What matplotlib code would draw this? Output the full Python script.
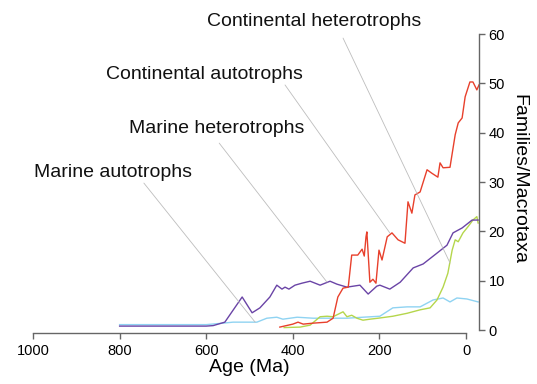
import matplotlib
matplotlib.use("Agg")
import matplotlib.pyplot as plt

plt.rcParams['font.family'] = ['Liberation Sans', 'DejaVu Sans']

# Marine heterotrophs (purple)
mh_age = [800, 600, 584, 557, 517, 494, 476, 453, 437, 425, 418, 409, 395, 379, 360, 337, 314, 298,
          275, 245, 226, 206, 199, 176, 152, 122, 99, 67, 44, 30, 9, -14, -28]
mh_val = [0.8, 0.8, 0.9, 1.6, 6.7, 3.5, 4.5, 6.7, 9.1, 8.3, 8.7, 8.3, 9.1, 9.5, 9.9, 9.1, 9.9, 9.3,
          8.7, 9.1, 7.3, 8.9, 9.1, 8.3, 9.7, 12.6, 13.4, 15.6, 17.2, 19.7, 20.7, 22.3, 22.3]

# Continental heterotrophs (red)
ch_age = [430, 400, 388, 376, 353, 321, 307, 296, 284, 272, 264, 250, 240, 235, 231, 229, 222, 215,
          208, 201, 194, 182, 171, 157, 141, 134, 125, 118, 106, 90, 79, 65, 60, 53, 37, 25, 18, 9,
          2, -9, -16, -25, -30]
ch_val = [0.6, 1.2, 1.6, 1.2, 1.4, 1.6, 2.4, 6.7, 8.5, 8.7, 15.2, 15.2, 16.4, 15.0, 18.9, 19.9, 9.7, 10.3,
          9.5, 16.2, 14.2, 18.9, 19.7, 18.3, 17.6, 26.0, 23.7, 27.4, 28.0, 32.5, 31.8, 31.0, 33.9, 32.9, 33.0, 39.6, 42.0, 43.0,
          47.3, 50.3, 50.3, 48.7, 49.7]

# Continental autotrophs (green)
ca_age = [420, 383, 360, 337, 321, 307, 284, 275, 264, 252, 238, 222, 203, 169, 136, 106, 83, 67, 53,
          42, 32, 25, 18, 7, -5, -16, -25, -28]
ca_val = [0.5, 0.6, 1.0, 2.7, 2.8, 2.7, 3.7, 2.7, 3.0, 2.4, 2.0, 2.2, 2.4, 2.8, 3.4, 4.1, 4.5, 6.1, 8.7,
          11.5, 16.2, 18.3, 17.9, 19.7, 21.0, 22.3, 23.0, 21.7]

# Marine autotrophs (light blue)
ma_age = [800, 600, 561, 538, 483, 460, 437, 423, 390, 353, 275, 238, 199, 169, 136, 106, 76, 53, 37,
          21, -2, -28]
ma_val = [1.1, 1.1, 1.4, 1.6, 1.6, 2.4, 2.6, 2.2, 2.6, 2.4, 2.4, 2.6, 2.8, 4.5, 4.7, 4.7, 6.1, 6.5, 5.7,
          6.5, 6.3, 5.7]

labels = ["Continental heterotrophs", "Continental autotrophs", "Marine heterotrophs", "Marine autotrophs"]
label_pos = [(351, 62.5), (605, 51.9), (575, 40.8), (815, 32.0)]
leader_start = [(284, 59.2), (418, 49.7), (570, 37.9), (744, 29.8)]
leader_end = [(37, 13.6), (176, 19.7), (321, 9.7), (487, 1.6)]

xticks = [1000, 800, 600, 400, 200, 0]
yticks = [0, 10, 20, 30, 40, 50, 60]

fig = plt.figure(figsize=(5.37, 3.84), dpi=100)
ax = fig.add_axes([0.0615, 0.1328, 0.8305, 0.804])

ax.plot(ma_age, ma_val, color='#8fd3f2', lw=1.0)
ax.plot(ca_age, ca_val, color='#b5d64c', lw=1.0)
ax.plot(mh_age, mh_val, color='#6a44a6', lw=1.0)
ax.plot(ch_age, ch_val, color='#e8402c', lw=1.0)

for lab, tp, s, e in zip(labels, label_pos, leader_start, leader_end):
    ax.text(tp[0], tp[1], lab, ha='center', va='center', fontsize=14, color='#111111', clip_on=False)
    ax.annotate('', xy=e, xytext=s, arrowprops=dict(arrowstyle='-', color='#bdbdbd', lw=0.6,
                                                      shrinkA=0, shrinkB=0), annotation_clip=False)

ax.set_xlim(1000, -30)
ax.set_ylim(-0.6, 62)

for sp in ['top', 'left']:
    ax.spines[sp].set_visible(False)
ax.spines['bottom'].set_bounds(0, 1000)
ax.spines['right'].set_bounds(0, 60)
for sp in ['bottom', 'right']:
    ax.spines[sp].set_color('#666666')
    ax.spines[sp].set_linewidth(1.0)

ax.yaxis.tick_right()
ax.yaxis.set_label_position('right')
ax.set_xticks(xticks)
ax.set_yticks(yticks)
ax.tick_params(axis='both', direction='out', length=4, width=1, color='#666666', labelsize=10.5, pad=3)
ax.tick_params(axis='x', pad=4)

ax.set_xlabel('Age (Ma)', fontsize=14, labelpad=2)
ax.xaxis.set_label_coords(0.485, -0.085)
ax.set_ylabel('Families/Macrotaxa', fontsize=14, rotation=270, labelpad=16)

fig.savefig('out.png', dpi=100)
